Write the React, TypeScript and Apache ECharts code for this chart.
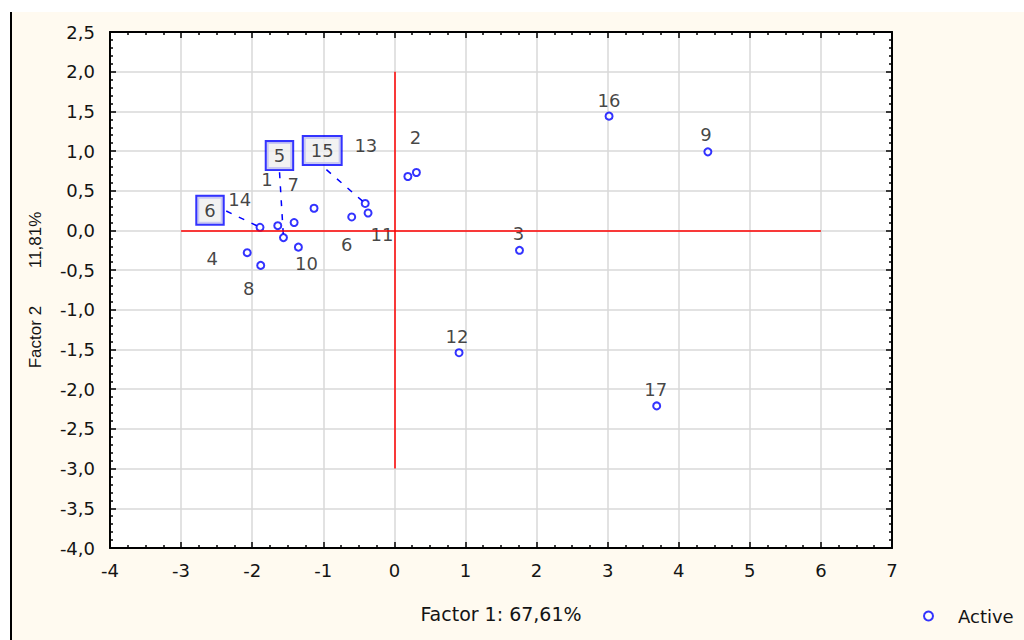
import React, { useEffect, useRef } from "react";
import * as echarts from "echarts";

// ---- data ----
const pointLabels = ["6", "14", "5", "7", "1", "6", "15", "11", "4", "8", "10", "13", "2", "16", "9", "3", "12", "17"];
const pointX = [-1.89, -1.64, -1.56, -1.41, -1.13, -0.6, -0.41, -0.37, -2.07, -1.88, -1.35, 0.19, 0.31, 3.02, 4.41, 1.76, 0.91, 3.69];
const pointY = [0.04, 0.06, -0.09, 0.1, 0.28, 0.17, 0.34, 0.22, -0.28, -0.44, -0.21, 0.68, 0.73, 1.44, 0.99, -0.25, -1.54, -2.21];
const boxedLabels = [true, false, true, false, false, false, true, false, false, false, false, false, false, false, false, false, false, false];

// label placement (pixel offsets from each point)
const labelDx = [-50, -38, -4, -1, -47, -5, -43, 14, -35, -12, 8, -42, -1, 0, -2, -1, -2, -1];
const labelDy = [-17, -26, -82, -38, -29, 28, -53, 22, 6, 23, 16, -31, -35, -16, -17, -17, -16, -16];

// reference lines
const hLineXRange = [-3, 6]; // at y = 0
const vLineYRange = [2, -3]; // at x = 0

// axes
const xMin = -4, xMax = 7, xStep = 1;
const yMin = -4, yMax = 2.5, yStep = 0.5;
const xName = "Factor 1: 67,61%";
const yName = "Factor 2\u00a0\u00a0\u00a0\u00a0\u00a0\u00a0\u00a0\u00a011,81%";
const seriesName = "Active";

const FONT = "DejaVu Sans";
const TXT = "#141414";
const BLUE = "#0000ff";

export default function App() {
  const ref = useRef<HTMLDivElement>(null);
  useEffect(() => {
    if (!ref.current) return;
    const chart = echarts.init(ref.current, null, { renderer: "svg" });
    const boxLabel = {
      backgroundColor: "#efefef",
      borderColor: BLUE,
      borderWidth: 2,
      padding: [5, 7, 4, 7],
    };
    const data = pointX.map((x, i) => {
      const item: any = { value: [x, pointY[i]], name: pointLabels[i] };
      if (boxedLabels[i]) {
        item.label = boxLabel;
        item.labelLine = { show: true, lineStyle: { color: BLUE, width: 1.5, type: [6, 8] } };
      }
      return item;
    });
    const commonAxisLine = { show: true, onZero: false, lineStyle: { color: "#000", width: 2 } };
    const gridLine = { show: true, lineStyle: { color: "#d9d9d9", width: 1.5 } };
    const tick = { show: true, inside: true, length: 6, lineStyle: { color: "#000", width: 1.5 } };
    chart.setOption({
      animation: false,
      backgroundColor: "transparent",
      grid: {
        left: 110,
        right: 132,
        top: 32,
        bottom: 92,
        show: true,
        backgroundColor: "#ffffff",
        borderWidth: 0,
      },
      legend: {
        data: [seriesName],
        left: 918,
        top: 602,
        itemWidth: 9,
        itemHeight: 9,
        textStyle: { fontFamily: FONT, fontSize: 18, color: TXT, padding: [0, 0, 0, 20] },
      },
      xAxis: [
        {
          type: "value",
          min: xMin,
          max: xMax,
          interval: xStep,
          position: "bottom",
          name: xName,
          nameLocation: "middle",
          nameGap: 56,
          nameTextStyle: { fontFamily: FONT, fontSize: 19, color: TXT },
          axisLine: commonAxisLine,
          axisTick: tick,
          minorTick: { show: true, splitNumber: 4, length: 3, lineStyle: { color: "#000", width: 1.5 } },
          axisLabel: { fontFamily: FONT, fontSize: 18, color: TXT, margin: 13, formatter: (v: number) => String(v) },
          splitLine: gridLine,
        },
        {
          type: "value",
          min: xMin,
          max: xMax,
          interval: xStep,
          position: "top",
          axisLine: commonAxisLine,
          axisTick: tick,
          minorTick: { show: true, splitNumber: 4, length: 3, lineStyle: { color: "#000", width: 1.5 } },
          axisLabel: { show: false },
          splitLine: { show: false },
        },
      ],
      yAxis: [
        {
          type: "value",
          min: yMin,
          max: yMax,
          interval: yStep,
          position: "left",
          name: yName,
          nameLocation: "middle",
          nameGap: 66,
          nameTextStyle: { fontFamily: "Liberation Sans", fontSize: 17, color: TXT },
          axisLine: commonAxisLine,
          axisTick: tick,
          minorTick: { show: true, splitNumber: 5, length: 3, lineStyle: { color: "#000", width: 1.5 } },
          axisLabel: {
            fontFamily: FONT,
            fontSize: 18,
            color: TXT,
            margin: 15,
            formatter: (v: number) => v.toFixed(1).replace(".", ","),
          },
          splitLine: gridLine,
        },
        {
          type: "value",
          min: yMin,
          max: yMax,
          interval: yStep,
          position: "right",
          axisLine: commonAxisLine,
          axisTick: tick,
          minorTick: { show: true, splitNumber: 5, length: 3, lineStyle: { color: "#000", width: 1.5 } },
          axisLabel: { show: false },
          splitLine: { show: false },
        },
      ],
      series: [
        {
          name: seriesName,
          type: "scatter",
          xAxisIndex: 0,
          yAxisIndex: 0,
          symbol: "emptyCircle",
          symbolSize: 7,
          itemStyle: { color: BLUE, borderWidth: 1.5 },
          label: {
            show: true,
            position: "inside",
            formatter: "{b}",
            fontFamily: FONT,
            fontSize: 18,
            color: TXT,
          },
          labelLayout: (p: any) => ({ dx: labelDx[p.dataIndex], dy: labelDy[p.dataIndex] }),
          data,
          markLine: {
            silent: true,
            symbol: ["none", "none"],
            label: { show: false },
            lineStyle: { color: "#ff0000", width: 1.5, type: "solid" },
            data: [
              [{ coord: [hLineXRange[0], 0] }, { coord: [hLineXRange[1], 0] }],
              [{ coord: [0, vLineYRange[0]] }, { coord: [0, vLineYRange[1]] }],
            ],
          },
          z: 3,
        },
      ],
    });
    return () => chart.dispose();
  }, []);
  return (
    <div style={{ position: "absolute", left: 0, top: 0, width: 1024, height: 640, background: "#ffffff", overflow: "hidden" }}>
      <div
        style={{
          position: "absolute",
          left: 10,
          top: 12,
          width: 1014,
          height: 628,
          background: "#fffaf0",
          borderLeft: "2px solid #000",
          boxSizing: "border-box",
        }}
      />
      <div ref={ref} style={{ position: "absolute", left: 0, top: 0, width: 1024, height: 640 }} />
    </div>
  );
}
